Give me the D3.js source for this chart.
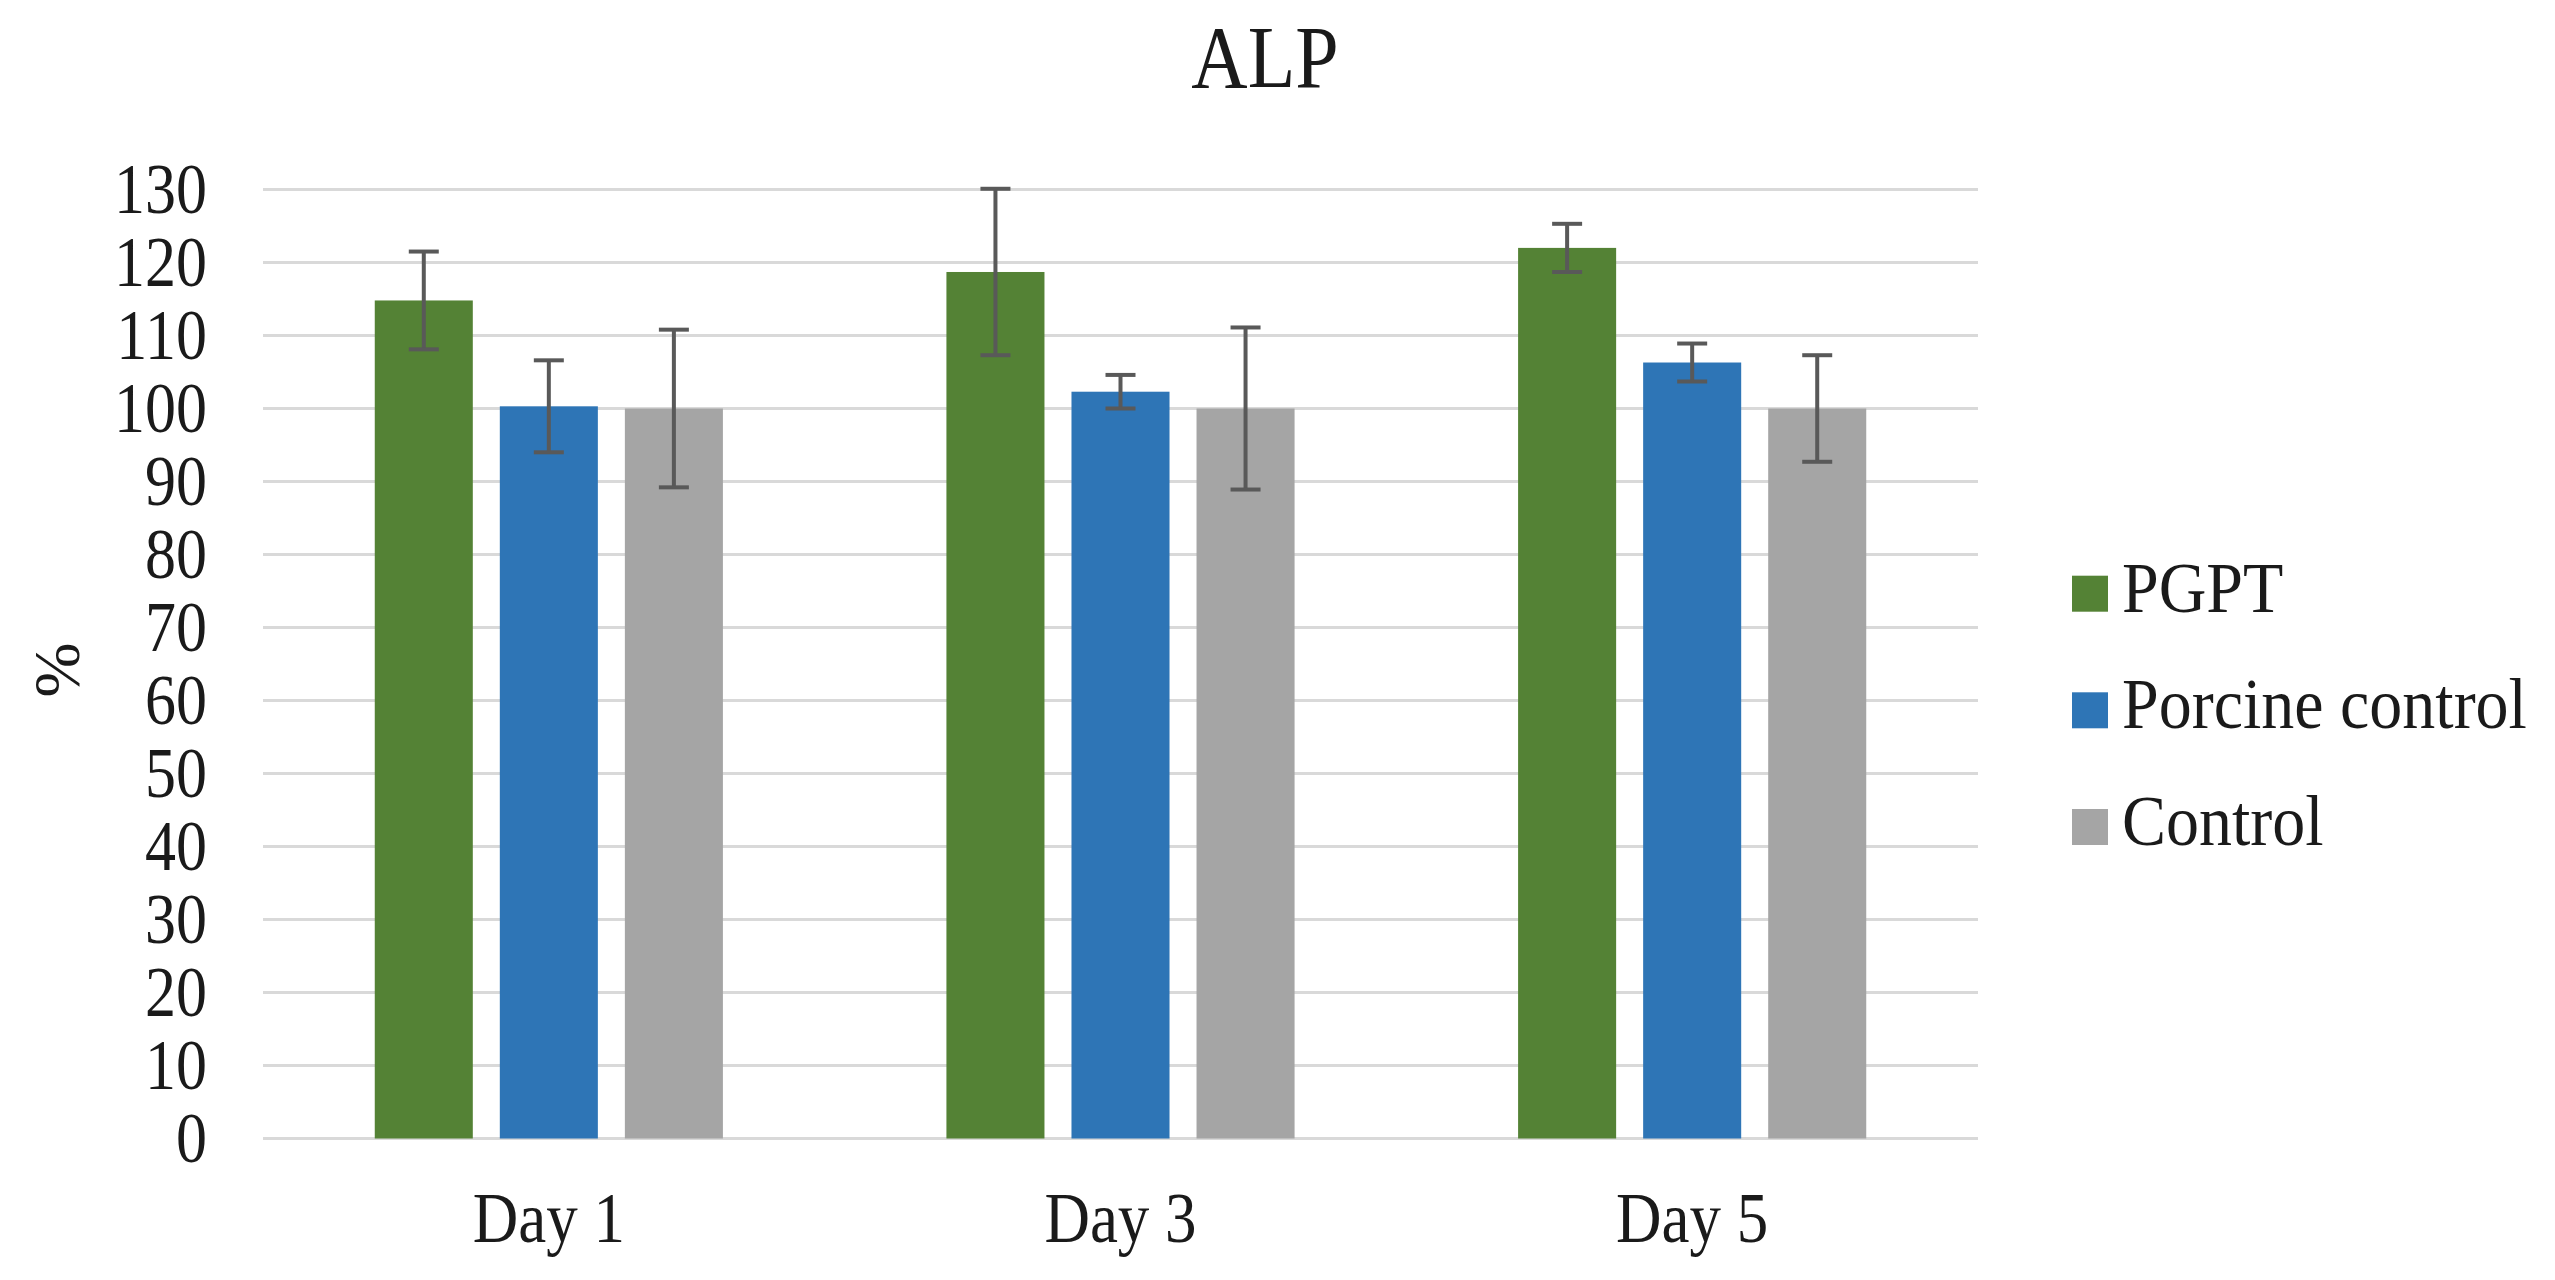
<!DOCTYPE html>
<html>
<head>
<meta charset="utf-8">
<script src="https://cdn.jsdelivr.net/npm/d3@7"></script>
<style>
  html, body { margin: 0; padding: 0; background: #ffffff; }
  text { font-family: "Liberation Serif", "Times New Roman", serif; fill: #1a1a1a; }
</style>
</head>
<body>
<svg id="chart" width="2555" height="1280"></svg>
<script>
// ---- data ----
const days = ["Day 1", "Day 3", "Day 5"];
const seriesNames = ["PGPT", "Porcine control", "Control"];
const pgptValues = [114.8, 118.7, 122.0];
const pgptErrors = [6.7, 11.4, 3.3];
const porcineValues = [100.3, 102.3, 106.3];
const porcineErrors = [6.3, 2.3, 2.6];
const controlValues = [100.0, 100.0, 100.0];
const controlErrors = [10.8, 11.1, 7.3];
const yTicks = [0, 10, 20, 30, 40, 50, 60, 70, 80, 90, 100, 110, 120, 130];
const seriesColors = ["#548235", "#2E75B6", "#A5A5A5"];
const titleText = "ALP";
const yAxisTitle = "%";

const seriesValues = [pgptValues, porcineValues, controlValues];
const seriesErrors = [pgptErrors, porcineErrors, controlErrors];

const svg = d3.select("#chart");
svg.append("rect").attr("width", 2555).attr("height", 1280).attr("fill", "#ffffff");

const plot = { left: 263, right: 1978, top: 189.5, bottom: 1138.5 };
const STRETCH = 1.15;

const y = d3.scaleLinear().domain([0, 130]).range([plot.bottom, plot.top]);
const x0 = d3.scaleBand().domain(days).range([plot.left, plot.right])
  .paddingInner(0.391).paddingOuter(0.1955);
const x1 = d3.scaleBand().domain(seriesNames).range([0, x0.bandwidth()])
  .paddingInner(0.216).paddingOuter(0);
const color = d3.scaleOrdinal().domain(seriesNames).range(seriesColors);

// gridlines
svg.append("g").selectAll("line").data(yTicks).join("line")
  .attr("x1", plot.left).attr("x2", plot.right)
  .attr("y1", d => y(d)).attr("y2", d => y(d))
  .attr("stroke", "#D9D9D9").attr("stroke-width", 3);

// y axis labels
const yAxis = svg.append("g").attr("transform", `translate(${plot.left},0)`)
  .call(d3.axisLeft(y).tickValues(yTicks).tickSize(0).tickPadding(56));
yAxis.select(".domain").remove();
yAxis.selectAll("text")
  .attr("font-size", 62)
  .attr("font-family", "Liberation Serif")
  .attr("fill", "#1a1a1a")
  .attr("transform", `scale(1,${STRETCH})`);

// bars
const rows = days.map((d, i) => ({
  day: d,
  items: seriesNames.map((s, j) => ({ series: s, value: seriesValues[j][i], err: seriesErrors[j][i] }))
}));

const groups = svg.append("g").selectAll("g").data(rows).join("g")
  .attr("transform", d => `translate(${x0(d.day)},0)`);

groups.selectAll("rect").data(d => d.items).join("rect")
  .attr("x", d => x1(d.series))
  .attr("width", x1.bandwidth())
  .attr("y", d => y(d.value))
  .attr("height", d => y(0) - y(d.value))
  .attr("fill", d => color(d.series));

// error bars
const capW = 30;
const eb = groups.selectAll("g.err").data(d => d.items).join("g").attr("class", "err");
eb.append("line")
  .attr("x1", d => x1(d.series) + x1.bandwidth() / 2)
  .attr("x2", d => x1(d.series) + x1.bandwidth() / 2)
  .attr("y1", d => y(d.value + d.err))
  .attr("y2", d => y(d.value - d.err));
eb.append("line")
  .attr("x1", d => x1(d.series) + x1.bandwidth() / 2 - capW / 2)
  .attr("x2", d => x1(d.series) + x1.bandwidth() / 2 + capW / 2)
  .attr("y1", d => y(d.value + d.err))
  .attr("y2", d => y(d.value + d.err));
eb.append("line")
  .attr("x1", d => x1(d.series) + x1.bandwidth() / 2 - capW / 2)
  .attr("x2", d => x1(d.series) + x1.bandwidth() / 2 + capW / 2)
  .attr("y1", d => y(d.value - d.err))
  .attr("y2", d => y(d.value - d.err));
eb.selectAll("line").attr("stroke", "#595959").attr("stroke-width", 4);

// x axis labels
svg.append("g").selectAll("text").data(days).join("text")
  .attr("transform", d => `translate(${x0(d) + x0.bandwidth() / 2},1241.7) scale(1,${STRETCH})`)
  .attr("text-anchor", "middle")
  .attr("font-size", 63)
  .text(d => d);

// title
svg.append("text")
  .attr("transform", `translate(1265,87) scale(1,${STRETCH})`)
  .attr("text-anchor", "middle")
  .attr("font-size", 78)
  .text(titleText);

// y axis title
svg.append("text")
  .attr("transform", `translate(56,670) rotate(-90)`)
  .attr("text-anchor", "middle")
  .attr("dominant-baseline", "central")
  .attr("font-size", 66)
  .text(yAxisTitle);

// legend
const legendBaselines = [611.7, 728.3, 845];
const legend = svg.append("g").selectAll("g").data(seriesNames).join("g");
legend.append("rect")
  .attr("x", 2072).attr("width", 36).attr("height", 36)
  .attr("y", (d, i) => legendBaselines[i] - 36)
  .attr("fill", d => color(d));
legend.append("text")
  .attr("transform", (d, i) => `translate(2122,${legendBaselines[i]}) scale(1,1.1)`)
  .attr("font-size", 66)
  .text(d => d);
</script>
</body>
</html>
